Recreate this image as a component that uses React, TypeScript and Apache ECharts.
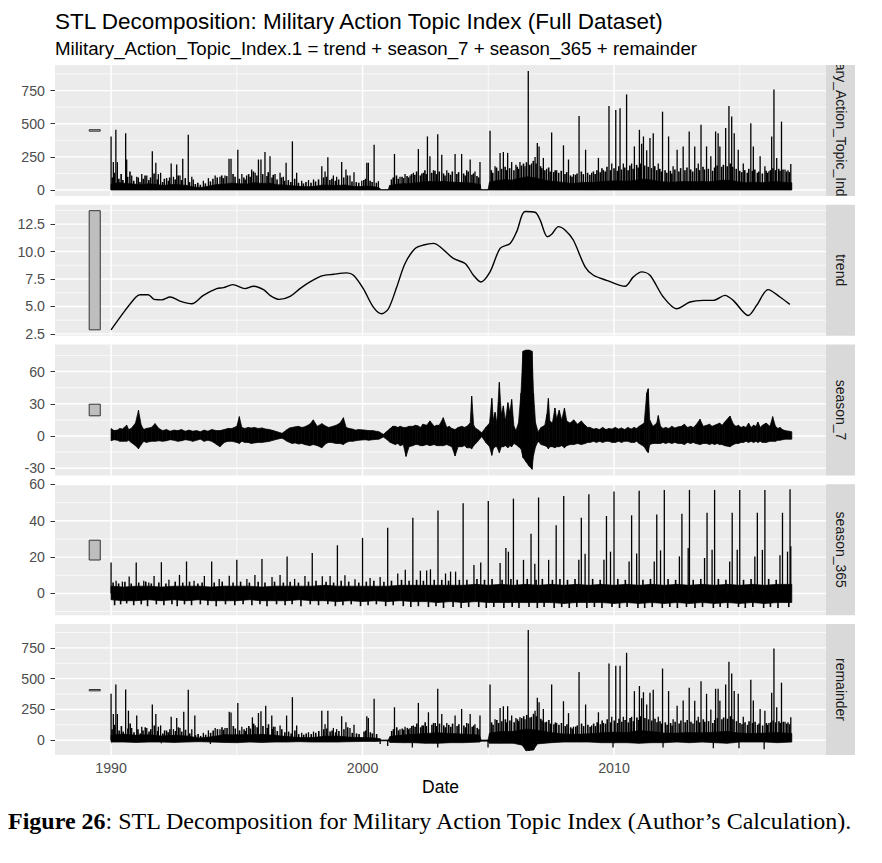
import { useEffect, useRef } from "react"
import * as echarts from "echarts"

// x axis: decimal years
const xMin = 1987.77
const xMax = 2018.43
const xTicks = [1990, 2000, 2010]
const xMinor = [1995, 2005, 2015]

const panelNames = ["Military_Action_Topic_Index.1", "trend", "season_7", "season_365", "remainder"]
const yMins = [-45, 2.33, -36.8, -12, -120]
const yMaxs = [943, 14.26, 85.2, 60.1, 944]
const yTicks = [
  [0, 250, 500, 750],
  [2.5, 5, 7.5, 10, 12.5],
  [-30, 0, 30, 60],
  [0, 20, 40, 60],
  [0, 250, 500, 750],
]
const yMinor = [
  [125, 375, 625, 875],
  [3.75, 6.25, 8.75, 11.25, 13.75],
  [-15, 15, 45, 75],
  [-10, 10, 30, 50],
  [125, 375, 625, 875],
]
// grey scale bars on the left of each panel
const scaleBarX = 1989.35
const scaleBarLow = [444, 2.87, 18.8, 18.4, 401]
const scaleBarHigh = [455, 13.72, 29.6, 29.3, 412]

// observed series: solid band [year, low, high], tall spikes and dense short spikes [year, value]
const observedBand = [
  [1990.0, 0, 45], [1990.3, 0, 55], [1990.6, 0, 50], [1990.9, 0, 45], [1991.2, 0, 40], [1991.5, 0, 48],
  [1991.8, 0, 42], [1992.1, 0, 35], [1992.4, 0, 42], [1992.7, 0, 40], [1993.0, 0, 35], [1993.3, 0, 22],
  [1993.6, 0, 20], [1993.9, 0, 30], [1994.2, 0, 42], [1994.5, 0, 45], [1994.8, 0, 52], [1995.1, 0, 48],
  [1995.4, 0, 45], [1995.7, 0, 55], [1996.0, 0, 50], [1996.3, 0, 52], [1996.6, 0, 40], [1996.9, 0, 38],
  [1997.2, 0, 32], [1997.5, 0, 28], [1997.8, 0, 25], [1998.1, 0, 28], [1998.4, 0, 38], [1998.7, 0, 36],
  [1999.0, 0, 35], [1999.3, 0, 38], [1999.6, 0, 28], [1999.9, 0, 26], [2000.2, 0, 30], [2000.55, 0, 22],
  [2000.68, 0, 14], [2000.72, 0, 3], [2001.02, 0, 3], [2001.08, 0, 35], [2001.4, 0, 45], [2001.7, 0, 48],
  [2002.0, 0, 52], [2002.3, 0, 58], [2002.6, 0, 65], [2002.9, 0, 62], [2003.2, 0, 65], [2003.5, 0, 60],
  [2003.8, 0, 58], [2004.1, 0, 55], [2004.4, 0, 52], [2004.68, 0, 40], [2004.71, 0, 3], [2004.99, 0, 3],
  [2005.05, 0, 60], [2005.35, 0, 72], [2005.65, 0, 78], [2005.95, 0, 75], [2006.25, 0, 88], [2006.55, 0, 100],
  [2006.85, 0, 92], [2007.15, 0, 78], [2007.45, 0, 68], [2007.75, 0, 62], [2008.05, 0, 55], [2008.35, 0, 50],
  [2008.65, 0, 55], [2008.95, 0, 58], [2009.25, 0, 58], [2009.55, 0, 65], [2009.85, 0, 68], [2010.15, 0, 70],
  [2010.45, 0, 66], [2010.75, 0, 70], [2011.05, 0, 82], [2011.35, 0, 80], [2011.65, 0, 70], [2011.95, 0, 62],
  [2012.25, 0, 58], [2012.55, 0, 62], [2012.85, 0, 64], [2013.15, 0, 62], [2013.45, 0, 65], [2013.75, 0, 62],
  [2014.05, 0, 68], [2014.35, 0, 75], [2014.65, 0, 72], [2014.95, 0, 62], [2015.25, 0, 55], [2015.55, 0, 60],
  [2015.85, 0, 55], [2016.15, 0, 60], [2016.45, 0, 65], [2016.75, 0, 58], [2017.07, 0, 55],
]
const observedSpikes = [
  [1990.0, 404], [1990.09, 212], [1990.19, 454], [1990.25, 210], [1990.58, 429], [1990.62, 230], [1990.82, 110],
  [1991.02, 100], [1991.22, 120], [1991.42, 110], [1991.64, 292], [1991.78, 205], [1991.88, 120], [1991.97, 130],
  [1992.21, 90], [1992.39, 200], [1992.48, 100], [1992.61, 192], [1992.74, 110], [1992.85, 235], [1993.07, 417],
  [1993.21, 100], [1993.27, 80], [1993.67, 70], [1993.87, 90], [1994.14, 110], [1994.33, 100], [1994.53, 110],
  [1994.69, 235], [1994.77, 235], [1995.04, 304], [1995.2, 120], [1995.39, 110], [1995.59, 155], [1995.73, 130],
  [1995.86, 230], [1995.96, 230], [1996.12, 287], [1996.32, 254], [1996.52, 120], [1996.72, 130], [1996.85, 100],
  [1996.96, 205], [1997.21, 367], [1997.38, 130], [1997.58, 70], [1997.85, 75], [1998.05, 80], [1998.38, 180],
  [1998.51, 140], [1998.62, 247], [1998.84, 110], [1998.97, 100], [1999.17, 212], [1999.34, 155], [1999.5, 110],
  [1999.66, 135], [1999.97, 70], [2000.17, 205], [2000.23, 205], [2000.46, 342], [2000.63, 67], [2001.27, 272],
  [2001.49, 100], [2001.69, 120], [2001.89, 110], [2002.02, 130], [2002.22, 309], [2002.42, 130], [2002.58, 404],
  [2002.68, 254], [2002.82, 150], [2002.99, 421], [2003.15, 267], [2003.35, 150], [2003.68, 272], [2003.94, 272],
  [2004.14, 150], [2004.28, 230], [2004.47, 140], [2004.67, 212], [2005.07, 447], [2005.27, 180], [2005.47, 280],
  [2005.6, 287], [2005.77, 280], [2005.93, 212], [2006.1, 190], [2006.26, 212], [2006.46, 180], [2006.59, 898],
  [2006.72, 200], [2006.86, 250], [2006.95, 354], [2007.02, 329], [2007.19, 242], [2007.32, 160], [2007.52, 434],
  [2007.72, 150], [2007.99, 337], [2008.19, 230], [2008.39, 120], [2008.61, 559], [2008.87, 304], [2009.11, 130],
  [2009.38, 242], [2009.58, 150], [2009.8, 634], [2009.91, 200], [2010.07, 604], [2010.24, 616], [2010.37, 200],
  [2010.5, 721], [2010.7, 200], [2010.81, 329], [2011.01, 454], [2011.1, 350], [2011.17, 404], [2011.3, 300],
  [2011.43, 392], [2011.56, 429], [2011.76, 200], [2011.93, 591], [2012.17, 404], [2012.35, 180], [2012.51, 304],
  [2012.75, 329], [2012.99, 442], [2013.21, 329], [2013.35, 200], [2013.46, 492], [2013.68, 329], [2013.85, 254],
  [2014.04, 442], [2014.14, 429], [2014.21, 329], [2014.44, 467], [2014.57, 634], [2014.68, 554], [2014.78, 429],
  [2014.94, 304], [2015.14, 200], [2015.44, 504], [2015.54, 329], [2015.81, 254], [2016.0, 180], [2016.16, 142],
  [2016.27, 404], [2016.36, 758], [2016.47, 242], [2016.66, 516], [2016.8, 155], [2016.92, 150], [2017.03, 197],
]
const observedTexture = [
  [1990.05, 95], [1990.13, 130], [1990.31, 85], [1990.4, 120], [1990.47, 75], [1990.66, 100], [1990.75, 140],
  [1990.9, 70], [1991.08, 95], [1991.15, 60], [1991.28, 85], [1991.35, 110], [1991.5, 75], [1991.57, 95],
  [1991.71, 125], [1991.84, 80], [1992.05, 60], [1992.12, 85], [1992.28, 70], [1992.33, 95], [1992.55, 80],
  [1992.67, 110], [1992.8, 75], [1992.95, 90], [1993.12, 60], [1993.35, 45], [1993.45, 55], [1993.55, 40],
  [1993.75, 50], [1993.95, 65], [1994.05, 85], [1994.22, 95], [1994.4, 110], [1994.46, 90], [1994.6, 105],
  [1994.85, 120], [1994.93, 100], [1995.1, 85], [1995.28, 95], [1995.33, 80], [1995.47, 120], [1995.53, 100],
  [1995.66, 140], [1995.8, 110], [1996.03, 120], [1996.2, 105], [1996.25, 135], [1996.4, 95], [1996.45, 115],
  [1996.6, 80], [1996.78, 95], [1996.9, 70], [1997.05, 75], [1997.15, 60], [1997.3, 85], [1997.45, 55],
  [1997.65, 50], [1997.75, 60], [1997.95, 55], [1998.13, 65], [1998.25, 80], [1998.45, 95], [1998.57, 100],
  [1998.7, 75], [1998.78, 85], [1998.92, 70], [1999.05, 80], [1999.25, 95], [1999.4, 110], [1999.58, 65],
  [1999.75, 60], [1999.85, 55], [2000.05, 75], [2000.12, 85], [2000.3, 70], [2000.38, 60], [2000.55, 55],
  [2001.15, 80], [2001.22, 95], [2001.35, 110], [2001.42, 85], [2001.57, 100], [2001.63, 90], [2001.77, 105],
  [2001.83, 95], [2001.95, 120], [2002.08, 115], [2002.15, 140], [2002.3, 110], [2002.36, 125], [2002.48, 150],
  [2002.53, 120], [2002.75, 130], [2002.88, 145], [2002.94, 120], [2003.05, 140], [2003.22, 125], [2003.28, 110],
  [2003.42, 130], [2003.5, 115], [2003.57, 140], [2003.75, 120], [2003.82, 135], [2004.02, 125], [2004.08, 110],
  [2004.2, 140], [2004.35, 115], [2004.41, 125], [2004.55, 105], [2004.62, 95], [2005.12, 150], [2005.18, 130],
  [2005.33, 170], [2005.4, 145], [2005.53, 160], [2005.67, 175], [2005.72, 150], [2005.85, 165], [2006.02, 150],
  [2006.15, 175], [2006.2, 160], [2006.32, 185], [2006.4, 200], [2006.52, 210], [2006.65, 190], [2006.79, 220],
  [2006.9, 200], [2007.08, 180], [2007.13, 165], [2007.25, 150], [2007.4, 170], [2007.46, 140], [2007.6, 135],
  [2007.66, 150], [2007.8, 130], [2007.9, 145], [2008.05, 120], [2008.12, 135], [2008.27, 110], [2008.33, 100],
  [2008.47, 115], [2008.53, 125], [2008.7, 140], [2008.78, 120], [2008.95, 130], [2009.04, 115], [2009.18, 140],
  [2009.25, 120], [2009.32, 150], [2009.45, 135], [2009.52, 165], [2009.65, 140], [2009.72, 175], [2009.86, 150],
  [2010.0, 165], [2010.13, 145], [2010.19, 180], [2010.3, 155], [2010.43, 170], [2010.56, 150], [2010.63, 185],
  [2010.76, 160], [2010.9, 190], [2010.96, 170], [2011.05, 200], [2011.22, 185], [2011.36, 175], [2011.49, 165],
  [2011.62, 180], [2011.7, 150], [2011.82, 160], [2011.88, 140], [2012.03, 150], [2012.1, 130], [2012.24, 145],
  [2012.3, 125], [2012.42, 155], [2012.58, 140], [2012.65, 165], [2012.82, 150], [2012.9, 170], [2013.05, 155],
  [2013.13, 140], [2013.28, 165], [2013.4, 150], [2013.54, 175], [2013.6, 155], [2013.75, 160], [2013.92, 145],
  [2014.0, 170], [2014.1, 185], [2014.28, 175], [2014.35, 190], [2014.5, 180], [2014.62, 200], [2014.72, 175],
  [2014.86, 160], [2015.0, 145], [2015.08, 135], [2015.2, 150], [2015.3, 130], [2015.36, 160], [2015.5, 145],
  [2015.6, 155], [2015.7, 130], [2015.76, 140], [2015.9, 125], [2016.05, 145], [2016.1, 130], [2016.22, 150],
  [2016.32, 165], [2016.42, 150], [2016.55, 160], [2016.6, 145], [2016.72, 155], [2016.86, 140], [2016.97, 135],
]

const trend = [
  [1990.0, 2.87], [1990.56, 4.64], [1990.99, 5.86], [1991.15, 6.07], [1991.48, 6.07], [1991.71, 5.64],
  [1992.01, 5.6], [1992.35, 5.86], [1992.74, 5.49], [1993.21, 5.25], [1993.67, 6.01], [1994.2, 6.62],
  [1994.47, 6.71], [1994.84, 6.99], [1995.33, 6.62], [1995.66, 6.84], [1996.06, 6.53], [1996.32, 6.01],
  [1996.69, 5.64], [1997.12, 5.92], [1997.51, 6.62], [1997.91, 7.23], [1998.38, 7.78], [1998.84, 7.93],
  [1999.37, 8.06], [1999.64, 7.84], [2000.03, 6.62], [2000.43, 4.94], [2000.76, 4.33], [2001.03, 4.79],
  [2001.36, 6.77], [2001.69, 8.91], [2002.09, 10.28], [2002.42, 10.59], [2002.82, 10.74], [2003.08, 10.44],
  [2003.61, 9.37], [2004.08, 8.91], [2004.41, 7.84], [2004.7, 7.23], [2005.07, 8.15], [2005.47, 10.28],
  [2005.87, 10.74], [2006.13, 11.81], [2006.46, 13.64], [2006.86, 13.58], [2007.06, 12.88], [2007.35, 11.35],
  [2007.52, 11.57], [2007.79, 12.27], [2008.05, 11.96], [2008.38, 11.05], [2008.85, 8.61], [2009.18, 7.84],
  [2009.71, 7.38], [2010.44, 6.84], [2010.77, 7.69], [2011.1, 8.15], [2011.43, 7.84], [2011.96, 5.86],
  [2012.49, 4.79], [2013.02, 5.4], [2013.55, 5.55], [2013.95, 5.55], [2014.41, 6.01], [2014.74, 5.55],
  [2015.34, 4.18], [2015.67, 5.09], [2016.13, 6.53], [2016.6, 5.86], [2016.99, 5.19],
]

// weekly seasonal: envelope [year, low, high]
const season7Band = [
  [1990.0, -4.5, 7], [1990.12, -3.5, 5], [1990.25, -4, 5.5], [1990.35, -5, 7], [1990.45, -5, 6.5], [1990.62, -5, 10],
  [1990.7, -4, 6], [1990.8, -6, 7], [1990.97, -9, 12], [1991.09, -12, 24], [1991.2, -8, 10], [1991.3, -5, 6],
  [1991.4, -6, 7], [1991.6, -5, 8], [1991.75, -5, 11.5], [1991.9, -4.5, 7], [1992.05, -5, 5], [1992.2, -4.5, 6],
  [1992.35, -3.5, 4.5], [1992.5, -4, 5.5], [1992.65, -5, 5], [1992.8, -4.5, 6], [1992.95, -3.5, 4.5], [1993.1, -4, 5.5],
  [1993.25, -5, 4.5], [1993.4, -4, 5], [1993.55, -3, 4], [1993.7, -5, 5.5], [1993.85, -4, 4.5], [1994.0, -5, 6],
  [1994.2, -8, 5], [1994.33, -10, 5], [1994.5, -6, 6], [1994.65, -5, 7], [1994.8, -5, 7], [1995.0, -6, 9],
  [1995.1, -7, 18], [1995.2, -5, 8], [1995.32, -6, 7], [1995.45, -6, 8], [1995.58, -7, 7.5], [1995.7, -6.5, 8],
  [1995.85, -6, 7], [1996.0, -6, 7.5], [1996.15, -5.5, 6.5], [1996.3, -5, 6], [1996.45, -4, 5], [1996.6, -3, 4],
  [1996.8, -2, 2.5], [1997.0, -5, 6], [1997.1, -6, 7.5], [1997.2, -7, 8], [1997.32, -6.5, 8.5], [1997.45, -7.5, 9],
  [1997.58, -7, 8], [1997.7, -8, 8.5], [1997.9, -9, 11], [1998.04, -8, 15], [1998.2, -9, 9], [1998.38, -11, 11.5],
  [1998.55, -7, 9], [1998.65, -6, 8], [1998.75, -6, 8.5], [1998.95, -7, 10], [1999.1, -7, 12], [1999.24, -8, 17],
  [1999.35, -6, 8], [1999.48, -5, 7], [1999.6, -5, 6.5], [1999.72, -4.5, 5.5], [1999.85, -4, 6], [2000.1, -3.5, 5.5],
  [2000.25, -4, 5], [2000.4, -3.5, 5], [2000.65, -3, 4], [2000.83, -1, 1.5], [2000.95, -3, 4], [2001.1, -6, 7],
  [2001.2, -7, 9], [2001.3, -8, 9], [2001.4, -7, 8], [2001.5, -9, 9], [2001.62, -8, 8], [2001.73, -19, 8],
  [2001.85, -10, 9], [2002.0, -9, 9], [2002.1, -8, 10], [2002.2, -8, 9.5], [2002.3, -9, 8], [2002.4, -9, 11],
  [2002.55, -8, 10], [2002.68, -9, 14], [2002.85, -8, 9], [2002.95, -9, 10], [2003.05, -9, 10], [2003.21, -9, 17],
  [2003.35, -8, 8], [2003.45, -9, 9], [2003.55, -10, 7], [2003.68, -18.6, 6], [2003.8, -10, 8], [2003.95, -10, 9],
  [2004.05, -9, 8], [2004.15, -11, 9], [2004.28, -11, 12], [2004.34, -12, 37], [2004.42, -9, 10], [2004.5, -7, 7],
  [2004.58, -5, 6], [2004.74, -0.6, 3], [2004.9, -6, 8], [2005.05, -10, 12], [2005.14, -18, 35], [2005.2, -12, 15],
  [2005.27, -10, 22], [2005.34, -10, 12], [2005.44, -15.5, 50], [2005.52, -10, 20], [2005.6, -10, 28], [2005.68, -9, 14],
  [2005.78, -11, 31], [2005.86, -9, 22], [2005.93, -10, 34], [2006.02, -7, 9], [2006.1, -8, 5], [2006.2, -10, 12],
  [2006.3, -12, 40], [2006.38, -20, 79], [2006.5, -24, 80], [2006.62, -28, 80], [2006.74, -31, 79], [2006.8, -18, 40],
  [2006.88, -10, 12], [2006.98, -5, 4], [2007.1, -8, 8], [2007.25, -9, 10], [2007.33, -10, 20], [2007.39, -12, 35],
  [2007.45, -10, 14], [2007.55, -10, 12], [2007.65, -11, 26], [2007.72, -10, 16], [2007.82, -10, 24], [2007.92, -9, 15],
  [2008.03, -11, 26], [2008.12, -9, 14], [2008.25, -8, 12], [2008.4, -8, 15], [2008.55, -7, 11], [2008.7, -8, 14],
  [2008.85, -7, 10], [2008.95, -6, 8], [2009.05, -6, 8], [2009.18, -5, 6.5], [2009.3, -6, 7], [2009.42, -5, 6],
  [2009.55, -6, 8], [2009.68, -5, 6], [2009.8, -5, 7], [2009.92, -6, 6.5], [2010.05, -6, 8], [2010.18, -5, 6.5],
  [2010.3, -6, 7.5], [2010.42, -5, 6], [2010.55, -5, 8], [2010.68, -6, 6.5], [2010.8, -6, 8], [2010.9, -5, 7],
  [2011.0, -7, 9], [2011.2, -10, 12], [2011.3, -14, 40], [2011.36, -15.5, 44], [2011.42, -8, 15], [2011.55, -7, 9],
  [2011.7, -7, 12], [2011.76, -7, 19], [2011.85, -7, 9], [2011.95, -6, 7], [2012.05, -7, 8], [2012.18, -6, 7],
  [2012.3, -7, 9], [2012.42, -6, 7.5], [2012.55, -7, 8.5], [2012.68, -7, 9], [2012.8, -8, 11], [2012.92, -6, 8],
  [2013.05, -7, 9], [2013.15, -6, 8], [2013.25, -7, 10], [2013.42, -8, 15.5], [2013.55, -7, 9], [2013.68, -7, 10],
  [2013.8, -8, 11], [2013.9, -7, 9], [2014.0, -8, 10], [2014.1, -7, 11], [2014.2, -8, 12], [2014.3, -8, 10],
  [2014.4, -9, 13], [2014.61, -10, 18.6], [2014.75, -8, 11], [2014.85, -7, 9], [2014.95, -7, 10], [2015.05, -6, 8],
  [2015.15, -6, 9], [2015.25, -5, 8], [2015.35, -6, 12], [2015.45, -5, 8], [2015.55, -6, 10], [2015.65, -5, 9],
  [2015.72, -6, 13], [2015.82, -5, 8], [2015.9, -6, 10], [2016.05, -6, 12], [2016.2, -5, 9], [2016.31, -5, 18],
  [2016.42, -5, 9], [2016.52, -4, 7], [2016.6, -4, 8], [2016.7, -3.5, 6], [2016.8, -3, 5], [2016.95, -3, 4.5],
  [2017.07, -3, 4],
]

// yearly seasonal: band + spikes (annual peaks, secondary peaks, small texture)
const season365Band = [
  [1990.0, -3.5, 4], [1990.5, -4, 3.5], [1991.0, -4, 4], [1991.5, -3.5, 4], [1992.0, -4, 3.5], [1992.5, -3.5, 4],
  [1993.0, -4, 4], [1993.5, -3.5, 4], [1994.0, -4, 3.5], [1994.5, -4, 4], [1995.0, -4, 4], [1995.5, -3.5, 4],
  [1996.0, -4, 3.5], [1996.5, -4, 4], [1997.0, -4, 4], [1997.5, -3.5, 4], [1998.0, -4, 4], [1998.5, -4, 4.5],
  [1999.0, -4.5, 4], [1999.5, -4, 4], [2000.0, -4.5, 4], [2000.5, -4, 4], [2001.0, -4.5, 4], [2001.5, -4, 4.5],
  [2002.0, -4.5, 4.5], [2002.5, -4.5, 4.5], [2003.0, -5, 4.5], [2003.5, -4.5, 4.5], [2004.0, -5, 4.5], [2004.5, -4.5, 5],
  [2005.0, -5, 4.5], [2005.5, -5, 5], [2006.0, -5, 4.5], [2006.5, -5, 5], [2007.0, -5, 4.5], [2007.5, -5, 5],
  [2008.0, -5.5, 4.5], [2008.5, -5, 5], [2009.0, -5, 4.5], [2009.5, -5, 5], [2010.0, -5.5, 4.5], [2010.5, -5, 5],
  [2011.0, -5.5, 4.5], [2011.5, -5, 5], [2012.0, -5.5, 4.5], [2012.5, -5, 5], [2013.0, -5.5, 4.5], [2013.5, -5, 5],
  [2014.0, -5.5, 4.5], [2014.5, -5, 5], [2015.0, -5.5, 4.5], [2015.5, -5, 5], [2016.0, -5.5, 4.5], [2016.5, -5, 5],
  [2017.07, -5, 5],
]
const season365Spikes = [
  [1990.0, 17], [1991.0, 17], [1992.0, 17.2], [1993.0, 17.6], [1994.0, 17.6], [1995.0, 18.5], [1996.0, 18.9],
  [1997.0, 20.4], [1998.0, 22.2], [1999.0, 26.5], [2000.0, 30.6], [2001.0, 36.1], [2002.0, 41.7], [2003.0, 45.7],
  [2004.0, 49.6], [2005.0, 50.9], [2006.0, 52.2], [2007.0, 52.8], [2008.0, 53.7], [2009.0, 54.6], [2010.0, 56.1],
  [2011.0, 56.5], [2012.0, 56.9], [2013.0, 57], [2014.0, 57], [2015.0, 57], [2016.0, 57], [2017.0, 57.4],
  [1990.72, 9.3], [1991.71, 9.6], [1992.72, 10.2], [1993.71, 9.6], [1994.7, 9.8], [1995.72, 10.2], [1996.72, 10.2],
  [1997.71, 9.6], [1998.71, 9.6], [1999.7, 7.8], [2000.7, 9], [2001.7, 13], [2002.7, 13.3], [2003.7, 12],
  [2004.7, 17], [2005.7, 25], [2006.7, 32.8], [2007.7, 37.6], [2008.7, 41.7], [2009.7, 42.6], [2010.7, 43],
  [2011.7, 43.5], [2012.7, 43.9], [2013.7, 44.4], [2014.7, 44.4], [2015.7, 44.4], [2016.7, 44.4],
  [2008.85, 21.8], [2009.86, 23], [2010.9, 22], [2011.85, 23.7], [2012.95, 25], [2013.9, 24], [2014.9, 24],
  [2015.9, 24], [2016.9, 23], [2017.03, 26],
  [2004.43, 15.7], [2005.47, 16.7], [2005.8, 23], [2006.4, 18.5], [2006.85, 16.3], [2007.4, 18.5], [2008.6, 18.5],
  [2009.6, 18.5], [2010.6, 17.6], [2011.6, 17.6], [2012.6, 20.4], [2013.6, 19.5], [2014.6, 17.6], [2015.6, 20.4],
  [2016.6, 21], [1990.2, 7], [1990.45, 6.5], [1991.3, 7], [1991.5, 6], [1992.3, 7.5], [1993.3, 7], [1994.3, 8],
  [1995.4, 8], [1996.4, 9], [1997.3, 8], [1998.4, 9.5], [1999.3, 10], [2000.3, 8.5], [2001.4, 11], [2002.3, 12.5],
  [2002.55, 12.6], [2003.3, 11], [2003.5, 12],
]
const season365Texture = [
  [1990.08, 6], [1990.14, -6.5], [1990.3, 5.5], [1990.38, -6], [1990.55, 6.5], [1990.62, -5.5], [1990.8, 5.5],
  [1990.9, -6.5], [1991.1, 6], [1991.2, -6], [1991.38, 6.5], [1991.45, -7], [1991.6, 5.5], [1991.8, -6],
  [1991.9, 6], [1992.1, -6.5], [1992.18, 5.5], [1992.42, -6], [1992.55, 6.5], [1992.63, -7], [1992.85, 6],
  [1992.92, -6], [1993.12, 6.5], [1993.2, -6.5], [1993.45, 5.5], [1993.55, -6], [1993.62, 6], [1993.85, -6.5],
  [1994.1, 6], [1994.18, -7], [1994.42, 6.5], [1994.55, -6], [1994.85, 6], [1994.92, -6.5], [1995.15, 6.5],
  [1995.25, -6], [1995.5, 6], [1995.6, -6.5], [1995.85, 6.5], [1995.92, -6], [1996.12, 6], [1996.2, -7],
  [1996.5, 6.5], [1996.58, -6], [1996.85, 6], [1996.92, -6.5], [1997.12, 6.5], [1997.2, -6], [1997.45, 6],
  [1997.55, -7], [1997.85, 6.5], [1997.92, -6], [1998.15, 7], [1998.25, -6.5], [1998.55, 6.5], [1998.62, -6],
  [1998.85, 6], [1998.92, -7], [1999.15, 7], [1999.22, -6.5], [1999.45, 6.5], [1999.55, -6], [1999.85, 6],
  [1999.92, -7], [2000.15, 6.5], [2000.22, -6.5], [2000.45, 7], [2000.55, -6], [2000.85, 6.5], [2000.92, -7],
  [2001.15, 7], [2001.22, -6.5], [2001.55, 7.5], [2001.62, -7], [2001.85, 7], [2001.92, -7.5], [2002.15, 7.5],
  [2002.22, -7], [2002.42, 7], [2002.62, -7.5], [2002.85, 7.5], [2002.92, -7], [2003.15, 7.5], [2003.22, -8],
  [2003.42, 7], [2003.6, -7.5], [2003.85, 7.5], [2003.92, -8], [2004.15, 7.5], [2004.22, -7.5], [2004.55, 8],
  [2004.62, -7.5], [2004.85, 7.5], [2004.92, -8], [2005.15, 8], [2005.22, -7.5], [2005.55, 7.5], [2005.62, -8],
  [2005.9, 8], [2005.95, -7.5], [2006.15, 7.5], [2006.22, -8], [2006.55, 8], [2006.62, -7.5], [2006.9, 7.5],
  [2006.95, -8], [2007.15, 8], [2007.22, -7.5], [2007.55, 7.5], [2007.62, -8], [2007.85, 8], [2007.92, -7.5],
  [2008.15, 7.5], [2008.22, -8], [2008.45, 8], [2008.52, -7.5], [2008.92, -8], [2009.15, 8], [2009.22, -7.5],
  [2009.45, 7.5], [2009.52, -8], [2009.92, -7.5], [2010.15, 8], [2010.22, -8], [2010.45, 7.5], [2010.52, -7.5],
  [2010.95, -8], [2011.15, 7.5], [2011.22, -8], [2011.45, 8], [2011.52, -7.5], [2011.92, -8], [2012.15, 8],
  [2012.22, -7.5], [2012.45, 7.5], [2012.52, -8], [2012.88, -7.5], [2013.15, 7.5], [2013.22, -8], [2013.45, 8],
  [2013.52, -7.5], [2013.95, -8], [2014.15, 8], [2014.22, -7.5], [2014.45, 7.5], [2014.52, -8], [2014.95, -7.5],
  [2015.15, 7.5], [2015.22, -8], [2015.45, 8], [2015.52, -7.5], [2015.95, -8], [2016.15, 8], [2016.22, -7.5],
  [2016.45, 7.5], [2016.52, -8], [2016.95, -7.5],
]

// remainder: band + spikes (negative values are dips) + dense short spikes
const remainderBand = [
  [1990.0, -15, 40], [1990.5, -15, 50], [1991.0, -18, 40], [1991.5, -15, 45], [1992.0, -15, 35], [1992.5, -18, 40],
  [1993.0, -15, 35], [1993.5, -12, 18], [1994.0, -15, 28], [1994.5, -18, 45], [1995.0, -20, 45], [1995.5, -15, 45],
  [1996.0, -18, 48], [1996.5, -15, 40], [1997.0, -15, 30], [1997.5, -12, 22], [1998.0, -15, 22], [1998.5, -15, 32],
  [1999.0, -15, 34], [1999.5, -12, 24], [2000.0, -10, 22], [2000.5, -10, 18], [2000.7, -8, 12], [2000.72, -5, 2],
  [2001.02, -5, 2], [2001.1, -18, 32], [2001.6, -20, 42], [2002.0, -20, 48], [2002.5, -25, 55], [2003.0, -25, 60],
  [2003.5, -20, 55], [2004.0, -20, 50], [2004.65, -15, 42], [2004.71, -8, 2], [2004.99, -8, 2], [2005.05, -25, 58],
  [2005.5, -25, 70], [2006.0, -25, 72], [2006.35, -40, 85], [2006.5, -85, 90], [2006.8, -80, 85], [2006.95, -30, 80],
  [2007.5, -20, 62], [2008.0, -15, 50], [2008.5, -15, 48], [2009.0, -15, 52], [2009.5, -20, 60], [2010.0, -20, 66],
  [2010.5, -20, 62], [2011.0, -25, 78], [2011.5, -20, 70], [2012.0, -20, 58], [2012.5, -15, 58], [2013.0, -20, 62],
  [2013.5, -15, 60], [2014.0, -20, 65], [2014.5, -25, 72], [2015.0, -15, 58], [2015.5, -15, 55], [2016.0, -15, 58],
  [2016.5, -20, 62], [2017.07, -15, 55],
]
const remainderSpikes = [
  [1990.0, 377], [1990.09, 213], [1990.19, 453], [1990.25, 213], [1990.58, 412], [1990.69, 240], [1990.82, 100],
  [1991.02, 200], [1991.22, 110], [1991.42, 100], [1991.64, 290], [1991.78, 213], [1991.88, 110], [1991.97, 120],
  [1992.21, 80], [1992.39, 191], [1992.48, 90], [1992.61, 180], [1992.74, 100], [1992.89, 232], [1993.07, 410],
  [1993.21, 90], [1993.33, 200], [1993.67, 60], [1993.87, 80], [1994.14, 100], [1994.33, 90], [1994.53, 100],
  [1994.7, 232], [1994.77, 225], [1995.04, 303], [1995.2, 110], [1995.39, 100], [1995.62, 186], [1995.73, 120],
  [1995.86, 221], [1995.96, 235], [1996.15, 281], [1996.39, 200], [1996.52, 110], [1996.72, 120], [1996.98, 200],
  [1997.21, 350], [1997.38, 120], [1997.58, 60], [1997.85, 65], [1998.05, 70], [1998.38, 240], [1998.51, 130],
  [1998.62, 240], [1998.84, 100], [1998.97, 90], [1999.17, 194], [1999.34, 145], [1999.5, 100], [1999.66, 125],
  [2000.17, 194], [2000.23, 180], [2000.46, 336], [2001.27, 268], [2001.49, 90], [2001.69, 110], [2001.89, 100],
  [2002.02, 120], [2002.22, 303], [2002.42, 120], [2002.62, 227], [2002.82, 140], [2002.99, 418], [2003.15, 213],
  [2003.35, 140], [2003.68, 200], [2003.94, 254], [2004.14, 140], [2004.28, 213], [2004.47, 130], [2004.67, 200],
  [2005.07, 453], [2005.27, 170], [2005.47, 262], [2005.6, 276], [2005.77, 276], [2005.93, 200], [2006.1, 180],
  [2006.26, 186], [2006.46, 170], [2006.59, 896], [2006.72, 190], [2006.86, 240], [2006.95, 344], [2007.02, 309],
  [2007.19, 254], [2007.32, 150], [2007.52, 453], [2007.72, 140], [2007.99, 317], [2008.19, 220], [2008.39, 110],
  [2008.61, 555], [2008.87, 290], [2009.11, 120], [2009.38, 227], [2009.58, 140], [2009.8, 623], [2009.91, 190],
  [2010.07, 604], [2010.24, 604], [2010.37, 190], [2010.5, 710], [2010.7, 190], [2010.81, 399], [2011.01, 440],
  [2011.1, 340], [2011.17, 390], [2011.3, 290], [2011.43, 385], [2011.56, 410], [2011.76, 190], [2011.93, 582],
  [2012.17, 399], [2012.35, 170], [2012.51, 281], [2012.75, 322], [2012.99, 426], [2013.21, 320], [2013.35, 190],
  [2013.46, 478], [2013.68, 377], [2013.85, 250], [2014.04, 418], [2014.14, 418], [2014.21, 320], [2014.44, 453],
  [2014.57, 637], [2014.68, 541], [2014.78, 399], [2014.94, 377], [2015.14, 190], [2015.44, 492], [2015.54, 322],
  [2015.81, 254], [2016.0, 240], [2016.16, 140], [2016.27, 385], [2016.36, 746], [2016.47, 268], [2016.66, 467],
  [2016.8, 150], [2016.92, 145], [2017.03, 186],
  [2000.7, -30], [2001.0, -46], [2001.98, -60], [2002.99, -60], [2004.99, -60], [2009.96, -60], [2011.95, -60],
  [2013.95, -65], [2014.97, -65], [2015.97, -74], [1992.0, -25], [1993.95, -30], [2006.62, -88],
]
const remainderTexture = [
  [1990.04, 90], [1990.14, 125], [1990.32, 80], [1990.41, 115], [1990.48, 70], [1990.67, 95], [1990.76, 135],
  [1990.91, 65], [1991.07, 90], [1991.16, 55], [1991.27, 80], [1991.36, 105], [1991.51, 70], [1991.58, 90],
  [1991.72, 120], [1991.85, 75], [1992.06, 55], [1992.13, 80], [1992.27, 65], [1992.34, 90], [1992.56, 75],
  [1992.68, 105], [1992.81, 70], [1992.96, 85], [1993.13, 55], [1993.36, 40], [1993.46, 50], [1993.56, 35],
  [1993.76, 45], [1993.96, 60], [1994.06, 80], [1994.23, 90], [1994.41, 105], [1994.47, 85], [1994.61, 100],
  [1994.86, 115], [1994.94, 95], [1995.11, 80], [1995.29, 90], [1995.34, 75], [1995.48, 115], [1995.54, 95],
  [1995.67, 135], [1995.81, 105], [1996.04, 115], [1996.21, 100], [1996.26, 130], [1996.41, 90], [1996.46, 110],
  [1996.61, 75], [1996.79, 90], [1996.91, 65], [1997.06, 70], [1997.16, 55], [1997.31, 80], [1997.46, 50],
  [1997.66, 45], [1997.76, 55], [1997.96, 50], [1998.14, 60], [1998.26, 75], [1998.46, 90], [1998.58, 95],
  [1998.71, 70], [1998.79, 80], [1998.93, 65], [1999.06, 75], [1999.26, 90], [1999.41, 105], [1999.59, 60],
  [1999.76, 55], [1999.86, 50], [2000.06, 70], [2000.13, 80], [2000.31, 65], [2000.39, 55], [2000.56, 50],
  [2001.16, 75], [2001.23, 90], [2001.36, 105], [2001.43, 80], [2001.58, 95], [2001.64, 85], [2001.78, 100],
  [2001.84, 90], [2001.96, 115], [2002.09, 110], [2002.16, 135], [2002.31, 105], [2002.37, 120], [2002.49, 145],
  [2002.54, 115], [2002.76, 125], [2002.89, 140], [2002.95, 115], [2003.06, 135], [2003.23, 120], [2003.29, 105],
  [2003.43, 125], [2003.51, 110], [2003.58, 135], [2003.76, 115], [2003.83, 130], [2004.03, 120], [2004.09, 105],
  [2004.21, 135], [2004.36, 110], [2004.42, 120], [2004.56, 100], [2004.63, 90], [2005.13, 145], [2005.19, 125],
  [2005.34, 165], [2005.41, 140], [2005.54, 155], [2005.68, 170], [2005.73, 145], [2005.86, 160], [2006.03, 145],
  [2006.16, 170], [2006.21, 155], [2006.33, 180], [2006.41, 195], [2006.53, 205], [2006.66, 185], [2006.8, 215],
  [2006.91, 195], [2007.09, 175], [2007.14, 160], [2007.26, 145], [2007.41, 165], [2007.47, 135], [2007.61, 130],
  [2007.67, 145], [2007.81, 125], [2007.91, 140], [2008.06, 115], [2008.13, 130], [2008.28, 105], [2008.34, 95],
  [2008.48, 110], [2008.54, 120], [2008.71, 135], [2008.79, 115], [2008.96, 125], [2009.05, 110], [2009.19, 135],
  [2009.26, 115], [2009.33, 145], [2009.46, 130], [2009.53, 160], [2009.66, 135], [2009.73, 170], [2009.87, 145],
  [2010.01, 160], [2010.14, 140], [2010.2, 175], [2010.31, 150], [2010.44, 165], [2010.57, 145], [2010.64, 180],
  [2010.77, 155], [2010.91, 185], [2010.97, 165], [2011.06, 195], [2011.23, 180], [2011.37, 170], [2011.5, 160],
  [2011.63, 175], [2011.71, 145], [2011.83, 155], [2011.89, 135], [2012.04, 145], [2012.11, 125], [2012.25, 140],
  [2012.31, 120], [2012.43, 150], [2012.59, 135], [2012.66, 160], [2012.83, 145], [2012.91, 165], [2013.06, 150],
  [2013.14, 135], [2013.29, 160], [2013.41, 145], [2013.55, 170], [2013.61, 150], [2013.76, 155], [2013.93, 140],
  [2014.01, 165], [2014.11, 180], [2014.29, 170], [2014.36, 185], [2014.51, 175], [2014.63, 195], [2014.73, 170],
  [2014.87, 155], [2015.01, 140], [2015.09, 130], [2015.21, 145], [2015.31, 125], [2015.37, 155], [2015.51, 140],
  [2015.61, 150], [2015.71, 125], [2015.77, 135], [2015.91, 120], [2016.06, 140], [2016.11, 125], [2016.23, 145],
  [2016.33, 160], [2016.43, 145], [2016.56, 155], [2016.61, 140], [2016.73, 150], [2016.87, 135], [2016.98, 130],
]

const SANS = "Liberation Sans, Arial, Helvetica, sans-serif"
const SERIF = "Liberation Serif, Times New Roman, serif"
const GRID_LEFT = 55
const GRID_WIDTH = 771
const PANEL_TOP = 65
const PANEL_STEP = 139.75
const PANEL_H = 131
const STRIP_W = 29
const BAR_HALF = 0.22

function gridLineSeries(gi: number, values: number[], vertical: boolean, width: number) {
  return {
    type: "custom",
    xAxisIndex: gi,
    yAxisIndex: gi,
    z: 1,
    silent: true,
    data: values.map(v => (vertical ? [v, yMins[gi]] : [xMin, v])),
    renderItem: (params: any, api: any) => {
      const cs = params.coordSys
      if (vertical) {
        const p = api.coord([api.value(0), yMins[gi]])
        return { type: "line", shape: { x1: p[0], y1: cs.y, x2: p[0], y2: cs.y + cs.height }, style: { stroke: "#fff", lineWidth: width } }
      }
      const p = api.coord([xMin, api.value(1)])
      return { type: "line", shape: { x1: cs.x, y1: p[1], x2: cs.x + cs.width, y2: p[1] }, style: { stroke: "#fff", lineWidth: width } }
    },
  }
}

function bandSeries(gi: number, rows: number[][]) {
  return {
    type: "custom",
    xAxisIndex: gi,
    yAxisIndex: gi,
    z: 3,
    silent: true,
    data: rows,
    renderItem: (params: any, api: any) => {
      const i = params.dataIndex
      if (i >= rows.length - 1) return { type: "group", children: [] }
      const a = rows[i]
      const b = rows[i + 1]
      const pts = [api.coord([a[0], a[2]]), api.coord([b[0], b[2]]), api.coord([b[0], b[1]]), api.coord([a[0], a[1]])]
      return { type: "polygon", shape: { points: pts }, style: { fill: "#000", stroke: "#000", lineWidth: 0.7 } }
    },
  }
}

function spikeSeries(gi: number, rows: number[][], width: number) {
  return {
    type: "custom",
    xAxisIndex: gi,
    yAxisIndex: gi,
    z: 3,
    silent: true,
    data: rows,
    renderItem: (params: any, api: any) => {
      const p0 = api.coord([api.value(0), 0])
      const p1 = api.coord([api.value(0), api.value(1)])
      return { type: "line", shape: { x1: p0[0], y1: p0[1], x2: p1[0], y2: p1[1] }, style: { stroke: "#000", lineWidth: width } }
    },
  }
}

function scaleBarSeries(gi: number) {
  return {
    type: "custom",
    xAxisIndex: gi,
    yAxisIndex: gi,
    z: 4,
    silent: true,
    data: [[scaleBarX, scaleBarLow[gi], scaleBarHigh[gi]]],
    renderItem: (params: any, api: any) => {
      const p1 = api.coord([api.value(0) - BAR_HALF, api.value(2)])
      const p2 = api.coord([api.value(0) + BAR_HALF, api.value(1)])
      return {
        type: "rect",
        shape: { x: p1[0], y: p1[1], width: p2[0] - p1[0], height: p2[1] - p1[1] },
        style: { fill: "#BEBEBE", stroke: "#333", lineWidth: 1 },
      }
    },
  }
}

export default function App() {
  const chartRef = useRef<HTMLDivElement>(null)

  useEffect(() => {
    if (!chartRef.current) return
    document.body.style.margin = "0"
    const chart = echarts.init(chartRef.current, null, { renderer: "svg" })

    const grids = panelNames.map((_, i) => ({
      left: GRID_LEFT,
      top: PANEL_TOP + i * PANEL_STEP,
      width: GRID_WIDTH,
      height: PANEL_H,
      show: true,
      backgroundColor: "#EBEBEB",
      borderWidth: 0,
      containLabel: false,
      outerBoundsMode: "none",
    }))

    const xAxes = panelNames.map((_, i) => ({
      type: "value",
      gridIndex: i,
      min: xMin,
      max: xMax,
      axisLine: { show: false },
      splitLine: { show: false },
      axisTick: i === 4
        ? { show: true, customValues: xTicks, length: 4, lineStyle: { color: "#333", width: 1 } }
        : { show: false },
      axisLabel: i === 4
        ? { show: true, customValues: xTicks, color: "#4D4D4D", fontSize: 14.2, fontFamily: SANS, margin: 6, formatter: (v: number) => String(v) }
        : { show: false },
    }))

    const yAxes = panelNames.map((_, i) => ({
      type: "value",
      gridIndex: i,
      min: yMins[i],
      max: yMaxs[i],
      axisLine: { show: false },
      splitLine: { show: false },
      axisTick: { show: true, customValues: yTicks[i], length: 4.5, lineStyle: { color: "#333", width: 1 } },
      axisLabel: {
        show: true,
        customValues: yTicks[i],
        color: "#4D4D4D",
        fontSize: 14.2,
        fontFamily: SANS,
        margin: 10,
        formatter: (v: number) => (i === 1 ? v.toFixed(1) : String(v)),
      },
    }))

    const series: any[] = []
    panelNames.forEach((_, i) => {
      series.push(gridLineSeries(i, yMinor[i], false, 0.7))
      series.push(gridLineSeries(i, xMinor, true, 0.7))
      series.push(gridLineSeries(i, yTicks[i], false, 1.4))
      series.push(gridLineSeries(i, xTicks, true, 1.4))
      series.push(scaleBarSeries(i))
    })
    series.push(bandSeries(0, observedBand))
    series.push(spikeSeries(0, observedTexture, 1.6))
    series.push(spikeSeries(0, observedSpikes, 1.3))
    series.push({
      type: "line",
      xAxisIndex: 1,
      yAxisIndex: 1,
      z: 3,
      data: trend,
      showSymbol: false,
      smooth: 0.3,
      lineStyle: { color: "#000", width: 1.4 },
      silent: true,
    })
    series.push(bandSeries(2, season7Band))
    series.push(bandSeries(3, season365Band))
    series.push(spikeSeries(3, season365Texture, 1.6))
    series.push(spikeSeries(3, season365Spikes, 1.3))
    series.push(bandSeries(4, remainderBand))
    series.push(spikeSeries(4, remainderTexture, 1.6))
    series.push(spikeSeries(4, remainderSpikes, 1.3))

    const graphic: any[] = [
      {
        type: "text",
        x: 55,
        y: 21,
        style: { text: "STL Decomposition: Military Action Topic Index (Full Dataset)", fontSize: 22.5, fontFamily: SANS, fill: "#000", align: "left", verticalAlign: "middle" },
      },
      {
        type: "text",
        x: 55,
        y: 48,
        style: { text: "Military_Action_Topic_Index.1 = trend + season_7 + season_365 + remainder", fontSize: 18.7, fontFamily: SANS, fill: "#000", align: "left", verticalAlign: "middle" },
      },
      {
        type: "text",
        x: GRID_LEFT + GRID_WIDTH / 2,
        y: 787,
        style: { text: "Date", fontSize: 17.5, fontFamily: SANS, fill: "#000", align: "center", verticalAlign: "middle" },
      },
      {
        type: "text",
        x: 8,
        y: 821,
        style: {
          text: "{b|Figure 26}{n|: STL Decomposition for Military Action Topic Index (Author\u2019s Calculation).}",
          align: "left",
          verticalAlign: "middle",
          rich: {
            b: { fontSize: 24, fontFamily: SERIF, fontWeight: "bold", fill: "#000" },
            n: { fontSize: 24, fontFamily: SERIF, fill: "#000" },
          },
        },
      },
    ]
    panelNames.forEach((name, i) => {
      const top = PANEL_TOP + i * PANEL_STEP
      graphic.push({
        type: "rect",
        shape: { x: GRID_LEFT + GRID_WIDTH, y: top, width: STRIP_W, height: PANEL_H },
        style: { fill: "#D9D9D9" },
      })
      graphic.push({
        type: "text",
        x: GRID_LEFT + GRID_WIDTH + STRIP_W / 2,
        y: top + PANEL_H / 2,
        rotation: -Math.PI / 2,
        style: { text: name, fontSize: 14, fontFamily: SANS, fill: "#1A1A1A", align: "center", verticalAlign: "middle" },
      })
      if (i === 0) {
        // the long facet label is clipped to its strip
        graphic.push({
          type: "rect",
          shape: { x: GRID_LEFT + GRID_WIDTH - 1, y: 0, width: STRIP_W + 10, height: top },
          style: { fill: "#fff" },
        })
        graphic.push({
          type: "rect",
          shape: { x: GRID_LEFT + GRID_WIDTH - 1, y: top + PANEL_H, width: STRIP_W + 10, height: PANEL_STEP - PANEL_H },
          style: { fill: "#fff" },
        })
      }
    })

    chart.setOption({
      animation: false,
      backgroundColor: "#fff",
      grid: grids,
      xAxis: xAxes,
      yAxis: yAxes,
      series,
      graphic,
    })

    return () => {
      chart.dispose()
    }
  }, [])

  return <div ref={chartRef} style={{ width: "882px", height: "863px" }} />
}
